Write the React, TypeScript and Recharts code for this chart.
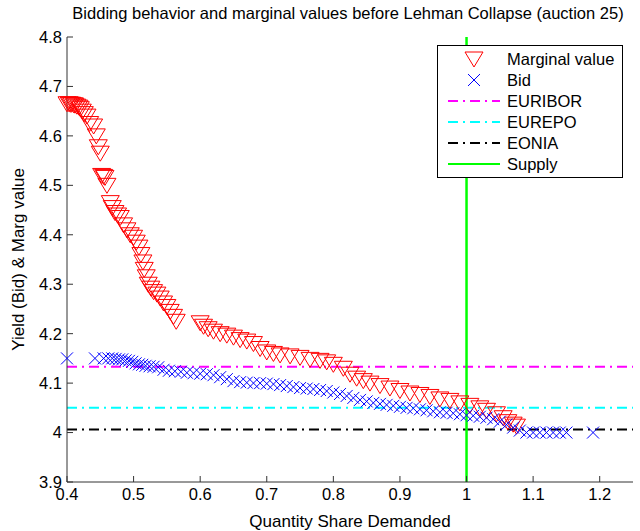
import { Legend, ReferenceLine, Scatter, ScatterChart, XAxis, YAxis } from 'recharts'

// auction 25: marginal values (quantity share, value)
const marginalQty = [
  0.4, 0.403, 0.405, 0.407, 0.41, 0.412, 0.415, 0.418, 0.42, 0.423, 0.426, 0.43, 0.434, 0.44, 0.444,
  0.447, 0.45, 0.452, 0.455, 0.457, 0.46, 0.465, 0.468, 0.472, 0.476, 0.48, 0.485, 0.49, 0.495, 0.5,
  0.504, 0.508, 0.511, 0.514, 0.516, 0.519, 0.522, 0.526, 0.53, 0.535, 0.54, 0.545, 0.55, 0.555, 0.56,
  0.564, 0.6, 0.605, 0.612, 0.62, 0.63, 0.64, 0.65, 0.66, 0.67, 0.68, 0.69, 0.7, 0.71, 0.72, 0.735,
  0.75, 0.765, 0.78, 0.79, 0.8, 0.815, 0.825, 0.835, 0.845, 0.855, 0.87, 0.885, 0.9, 0.915, 0.93,
  0.945, 0.96, 0.975, 0.99, 1.005, 1.02, 1.03, 1.045, 1.055, 1.062, 1.07, 1.075,
]
const marginalValue = [
  4.665, 4.665, 4.664, 4.664, 4.663, 4.662, 4.66, 4.658, 4.655, 4.65, 4.645, 4.64, 4.625, 4.62, 4.6,
  4.578, 4.565, 4.52, 4.518, 4.516, 4.5, 4.465, 4.455, 4.445, 4.44, 4.435, 4.42, 4.41, 4.4, 4.395,
  4.385, 4.375, 4.36, 4.345, 4.33, 4.315, 4.3, 4.292, 4.285, 4.28, 4.272, 4.262, 4.255, 4.245, 4.235,
  4.225, 4.222, 4.215, 4.21, 4.205, 4.2, 4.197, 4.193, 4.188, 4.185, 4.18, 4.17, 4.163, 4.16, 4.157, 4.155,
  4.152, 4.148, 4.146, 4.143, 4.138, 4.13, 4.118, 4.11, 4.105, 4.1, 4.095, 4.09, 4.085, 4.08, 4.077,
  4.073, 4.068, 4.065, 4.06, 4.055, 4.05, 4.045, 4.038, 4.03, 4.022, 4.017, 4.013,
]

// bids (quantity share, yield)
const bidQty = [
  0.4, 0.442, 0.455, 0.462, 0.468, 0.473, 0.478, 0.483, 0.488, 0.493, 0.498, 0.503, 0.508, 0.513, 0.518,
  0.524, 0.53, 0.537, 0.545, 0.553, 0.562, 0.571, 0.58, 0.59, 0.6, 0.61, 0.62, 0.63, 0.64, 0.65, 0.66,
  0.67, 0.68, 0.69, 0.7, 0.71, 0.72, 0.73, 0.74, 0.75, 0.76, 0.77, 0.78, 0.79, 0.8, 0.81, 0.82, 0.83,
  0.84, 0.85, 0.86, 0.87, 0.88, 0.89, 0.9, 0.91, 0.92, 0.93, 0.94, 0.95, 0.96, 0.97, 0.98, 0.99, 1.0,
  1.01, 1.02, 1.03, 1.04, 1.05, 1.06, 1.07, 1.08, 1.09, 1.1, 1.11, 1.12, 1.13, 1.14, 1.15, 1.19,
]
const bidYield = [
  4.15, 4.15, 4.15, 4.15, 4.15, 4.149, 4.148, 4.148, 4.146, 4.145, 4.143, 4.14, 4.138, 4.137, 4.135,
  4.134, 4.133, 4.132, 4.127, 4.125, 4.124, 4.123, 4.121, 4.12, 4.119, 4.118, 4.116, 4.112, 4.108, 4.104,
  4.102, 4.101, 4.1, 4.1, 4.099, 4.098, 4.096, 4.094, 4.092, 4.09, 4.089, 4.088, 4.086, 4.084, 4.081,
  4.078, 4.074, 4.07, 4.066, 4.063, 4.06, 4.058, 4.056, 4.054, 4.052, 4.05, 4.049, 4.047, 4.045, 4.043,
  4.041, 4.04, 4.039, 4.037, 4.035, 4.034, 4.032, 4.03, 4.027, 4.022, 4.016, 4.01, 4.004, 4.0, 4.0, 4.0,
  4.0, 4.0, 4.0, 4.0, 4.0,
]

const euribor = 4.133
const eurepo = 4.05
const eonia = 4.006
const supply = 1

const xTicks = [0.4, 0.5, 0.6, 0.7, 0.8, 0.9, 1, 1.1, 1.2]
const yTicks = [3.9, 4, 4.1, 4.2, 4.3, 4.4, 4.5, 4.6, 4.7, 4.8]

const marginalData = marginalQty.map((q, i) => ({ q, v: marginalValue[i] }))
const bidData = bidQty.map((q, i) => ({ q, v: bidYield[i] }))

const FONT = '"Liberation Sans", Arial, Helvetica, sans-serif'
const DASH_DOT = '10 5 2 5'

const fmt = (v: number) => String(Number(v.toFixed(2)))

function TriangleDown({ cx, cy }: any) {
  return (
    <path
      d={`M${cx - 9},${cy - 7}L${cx + 9},${cy - 7}L${cx},${cy + 8}Z`}
      fill="none"
      stroke="#ff0000"
      strokeWidth={1}
    />
  )
}

function Cross({ cx, cy }: any) {
  const r = 6
  return (
    <path
      d={`M${cx - r},${cy - r}L${cx + r},${cy + r}M${cx - r},${cy + r}L${cx + r},${cy - r}`}
      fill="none"
      stroke="#0000ff"
      strokeWidth={1}
    />
  )
}

const legendItems = [
  { name: 'Marginal value', kind: 'tri' },
  { name: 'Bid', kind: 'cross' },
  { name: 'EURIBOR', kind: 'line', color: '#ff00ff', dash: DASH_DOT },
  { name: 'EUREPO', kind: 'line', color: '#00ffff', dash: DASH_DOT },
  { name: 'EONIA', kind: 'line', color: '#000000', dash: DASH_DOT },
  { name: 'Supply', kind: 'line', color: '#00ff00' },
]

function LegendBox() {
  return (
    <svg width={186} height={133} style={{ display: 'block' }}>
      <rect x={0.5} y={0.5} width={185} height={132} fill="#fff" stroke="#000" />
      {legendItems.map((it, i) => {
        const y = 14 + i * 21
        return (
          <g key={it.name}>
            {it.kind === 'tri' && <TriangleDown cx={37} cy={y} />}
            {it.kind === 'cross' && <Cross cx={37} cy={y} />}
            {it.kind === 'line' && (
              <line
                x1={11}
                x2={63}
                y1={y}
                y2={y}
                stroke={it.color}
                strokeWidth={2}
                strokeDasharray={it.dash}
              />
            )}
            <text x={70} y={y} dy="0.35em" fontSize={16.5} fontFamily={FONT} fill="#000">
              {it.name}
            </text>
          </g>
        )
      })}
    </svg>
  )
}

export default function App() {
  return (
    <div style={{ position: 'absolute', left: 0, top: 0, width: 640, height: 531, background: '#fff' }}>
      <div
        style={{
          position: 'absolute',
          left: 348,
          top: 4,
          transform: 'translateX(-50%)',
          whiteSpace: 'nowrap',
          fontFamily: FONT,
          fontSize: 16.5,
          color: '#000',
          zIndex: 2,
        }}
      >
        Bidding behavior and marginal values before Lehman Collapse (auction 25)
      </div>
      <ScatterChart width={640} height={531} margin={{ top: 37, right: 7, bottom: 0, left: 0 }}>
        <XAxis
          type="number"
          dataKey="q"
          domain={[0.4, 1.25]}
          ticks={xTicks}
          interval={0}
          tickFormatter={fmt}
          tickSize={-6}
          tickMargin={12}
          height={49}
          axisLine={{ stroke: '#333' }}
          tickLine={{ stroke: '#333' }}
          tick={{ fill: '#000', fontSize: 16.5, fontFamily: FONT }}
          label={{
            value: 'Quantity Share Demanded',
            position: 'insideBottom',
            offset: 4,
            fill: '#000',
            fontSize: 17,
            fontFamily: FONT,
          }}
        />
        <YAxis
          type="number"
          dataKey="v"
          domain={[3.9, 4.8]}
          ticks={yTicks}
          interval={0}
          tickFormatter={fmt}
          tickSize={-6}
          tickMargin={11}
          width={67}
          axisLine={{ stroke: '#333' }}
          tickLine={{ stroke: '#333' }}
          tick={{ fill: '#000', fontSize: 16.5, fontFamily: FONT }}
          label={{
            value: 'Yield (Bid) & Marg value',
            content: ({ viewBox }: any) => (
              <text
                x={18}
                y={viewBox.y + viewBox.height / 2}
                transform={`rotate(-90 18 ${viewBox.y + viewBox.height / 2})`}
                textAnchor="middle"
                dominantBaseline="central"
                fontSize={17}
                fontFamily={FONT}
                fill="#000"
              >
                Yield (Bid) &amp; Marg value
              </text>
            ),
          }}
        />
        <Scatter
          name="Marginal value"
          data={marginalData}
          shape={TriangleDown}
          isAnimationActive={false}
        />
        <Scatter name="Bid" data={bidData} shape={Cross} isAnimationActive={false} />
        <ReferenceLine y={euribor} stroke="#ff00ff" strokeWidth={2} strokeDasharray={DASH_DOT} />
        <ReferenceLine y={eurepo} stroke="#00ffff" strokeWidth={2} strokeDasharray={DASH_DOT} />
        <ReferenceLine y={eonia} stroke="#000000" strokeWidth={2} strokeDasharray={DASH_DOT} />
        <ReferenceLine x={supply} stroke="#00ff00" strokeWidth={2.5} />
        <Legend
          content={LegendBox}
          layout="vertical"
          align="center"
          verticalAlign="middle"
          wrapperStyle={{ left: 437, top: 45, width: 186, height: 133 }}
        />
      </ScatterChart>
    </div>
  )
}
